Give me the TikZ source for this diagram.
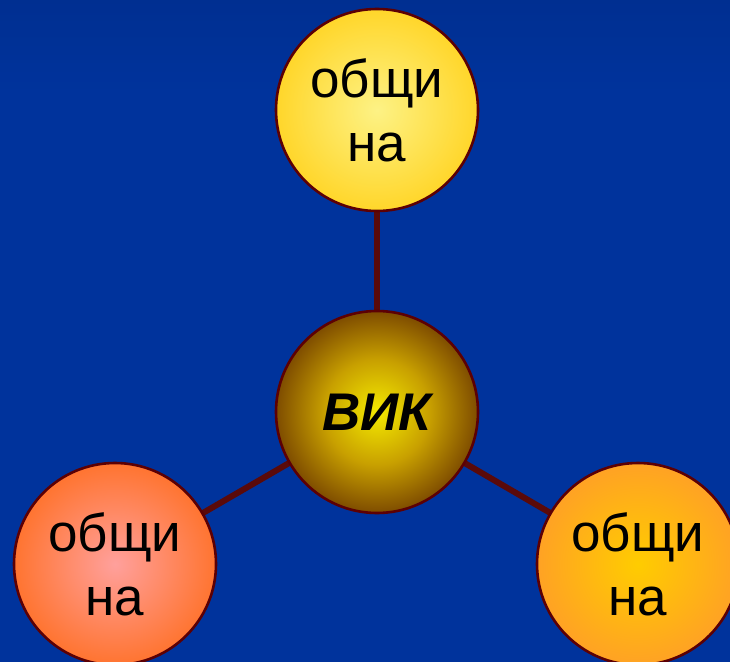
\documentclass[tikz,border=0pt]{standalone}
\usepackage{fontspec}
\setmainfont{Liberation Sans}
\definecolor{bgtop}{HTML}{00206A}
\definecolor{bgbot}{HTML}{00339C}
\definecolor{rim}{HTML}{5C0004}
\definecolor{conncol}{HTML}{5A0A0A}
\definecolor{topin}{HTML}{FDF285}
\definecolor{topout}{HTML}{FFD62A}
\definecolor{leftin}{HTML}{FFA09C}
\definecolor{leftout}{HTML}{FF7430}
\definecolor{rightin}{HTML}{FFCC00}
\definecolor{rightout}{HTML}{FFA224}
\definecolor{midin}{HTML}{F4EA00}
\definecolor{midmid}{HTML}{C8A000}
\definecolor{midout}{HTML}{7E4C00}
\pgfdeclareradialshading{topsh}{\pgfpoint{0bp}{0bp}}{color(0bp)=(topin); color(25bp)=(topout); color(50bp)=(topout)}
\pgfdeclareradialshading{leftsh}{\pgfpoint{0bp}{0bp}}{color(0bp)=(leftin); color(25bp)=(leftout); color(50bp)=(leftout)}
\pgfdeclareradialshading{rightsh}{\pgfpoint{0bp}{0bp}}{color(0bp)=(rightin); color(25bp)=(rightout); color(50bp)=(rightout)}
\pgfdeclareradialshading{midsh}{\pgfpoint{0bp}{0bp}}{color(0bp)=(midin); color(13bp)=(midmid); color(25bp)=(midout); color(50bp)=(midout)}
\pgfdeclareverticalshading{bgsh}{100bp}{color(0bp)=(bgbot); color(68bp)=(bgbot); color(100bp)=(bgtop)}
\pgfdeclarelayer{bglayer}
\pgfdeclarelayer{linelayer}
\pgfsetlayers{bglayer,linelayer,main}
\begin{document}
\begin{tikzpicture}[x=1pt,y=-1pt,
  ball/.style={circle, draw=rim, line width=2.6pt, minimum size=202pt, inner sep=0pt,
    align=center, text=black, font=\fontsize{53}{64}\selectfont},
  conn/.style={draw=conncol, line width=6pt}]
\useasboundingbox (0,0) rectangle (730,661);
\clip (0,0) rectangle (730,661);
\begin{pgfonlayer}{bglayer}
\shade[shading=bgsh] (0,0) rectangle (730,661);
\end{pgfonlayer}
\node[ball, shading=topsh] (top) at (377,110) {общи\\на};
\node[ball, shading=midsh, font=\fontsize{53}{64}\selectfont\bfseries\itshape] (mid) at (377,412) {ВИК};
\node[ball, shading=leftsh] (left) at (115,564) {общи\\на};
\node[ball, shading=rightsh] (right) at (638,564) {общи\\на};
\begin{pgfonlayer}{linelayer}
\draw[conn] (mid.center) -- (top.center);
\draw[conn] (mid.center) -- (left.center);
\draw[conn] (mid.center) -- (right.center);
\end{pgfonlayer}
\end{tikzpicture}
\end{document}
